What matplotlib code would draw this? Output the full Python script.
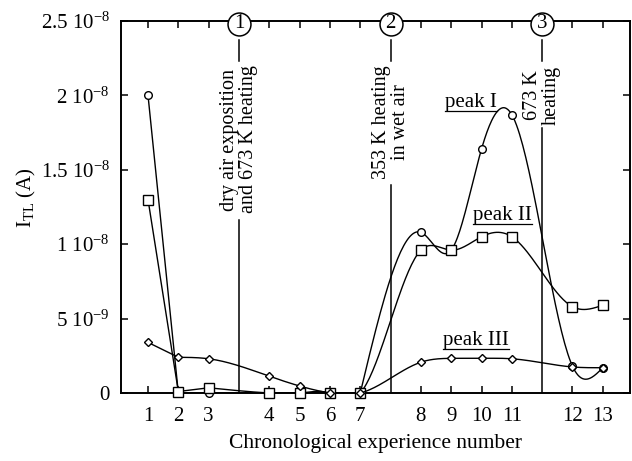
"""
TL peak intensities vs chronological experience number.
Smooth curves are natural cubic splines through the measured points.
"""
import numpy as np
import matplotlib.pyplot as plt

plt.rcParams['font.family'] = ['Liberation Serif', 'DejaVu Serif']
plt.rcParams['mathtext.default'] = 'regular'
plt.rcParams['font.size'] = 15

# experiment numbers and their place on the x axis (gaps where the events happen)
experience = [1, 2, 3, 4, 5, 6, 7, 8, 9, 10, 11, 12, 13]
x_pos = [1, 2, 3, 5, 6, 7, 8, 10, 11, 12, 13, 15, 16]

# TL current, in units of 1e-9 A
peak_1 = [20.0, 0.0, 0.0, 0.0, 0.0, 0.0, 0.0, 10.8, 9.6, 16.4, 18.7, 1.8, 1.7]
peak_2 = [13.0, 0.1, 0.35, 0.0, 0.0, 0.0, 0.0, 9.6, 9.6, 10.5, 10.5, 5.8, 5.9]
peak_3 = [3.4, 2.4, 2.3, 1.13, 0.47, 0.0, 0.0, 2.07, 2.33, 2.33, 2.3, 1.75, 1.7]

# index where the smoothed part of each curve starts (straight lines before)
smooth_1, smooth_2, smooth_3 = 6, 2, 1

event_pos = [4, 9, 14]
event_num = ['1', '2', '3']
event_text = ['dry air exposition\nand 673 K heating',
              '353 K heating\nin wet air',
              '673 K\nheating']
event_line_top = [11.6, 14.0, 17.8]

yticks = [0, 5, 10, 15, 20, 25]
ytick_labels = ['0', '5 10$^{-9}$', '1 10$^{-8}$', '1.5 10$^{-8}$',
                '2 10$^{-8}$', '2.5 10$^{-8}$']


def natural_spline(x, y, n=40):
    x = np.asarray(x, float)
    y = np.asarray(y, float)
    k = len(x)
    h = np.diff(x)
    A = np.zeros((k, k))
    r = np.zeros(k)
    A[0, 0] = A[-1, -1] = 1
    for i in range(1, k - 1):
        A[i, i - 1] = h[i - 1]
        A[i, i] = 2 * (h[i - 1] + h[i])
        A[i, i + 1] = h[i]
        r[i] = 6 * ((y[i + 1] - y[i]) / h[i] - (y[i] - y[i - 1]) / h[i - 1])
    m = np.linalg.solve(A, r)
    xs, ys = [], []
    for i in range(k - 1):
        t = np.linspace(x[i], x[i + 1], n)
        a, b = x[i + 1] - t, t - x[i]
        s = (m[i] * a**3 + m[i + 1] * b**3) / (6 * h[i]) \
            + (y[i] / h[i] - m[i] * h[i] / 6) * a \
            + (y[i + 1] / h[i] - m[i + 1] * h[i] / 6) * b
        xs.append(t)
        ys.append(s)
    return np.concatenate(xs), np.concatenate(ys)


def draw_series(ax, vals, start, marker, ms, z):
    ax.plot(x_pos[:start + 1], vals[:start + 1], c='k', lw=1.0, zorder=z)
    sx, sy = natural_spline(x_pos[start:], vals[start:])
    ax.plot(sx, sy, c='k', lw=1.0, zorder=z)
    ax.plot(x_pos, vals, ls='none', marker=marker, ms=ms, mfc='white',
            mec='k', mew=1.0, clip_on=False, zorder=z + 0.5)


fig = plt.figure(figsize=(6.32, 4.61), dpi=100)
ax = fig.add_axes([0.1915, 0.1475, 0.8055, 0.807])

draw_series(ax, peak_1, smooth_1, 'o', 5.5, 3)
draw_series(ax, peak_2, smooth_2, 's', 6.5, 4)
draw_series(ax, peak_3, smooth_3, 'D', 4.5, 5)

# events: vertical line, note, numbered circle on the top axis
for pos, num, txt, top in zip(event_pos, event_num, event_text, event_line_top):
    ax.plot([pos, pos], [0, top], c='k', lw=1.1, zorder=2)
    ax.plot([pos, pos], [23.7, 22.3], c='k', lw=1.1, zorder=2)
    ax.text(pos, 22.0, txt, rotation=90, ha='center', va='top',
            linespacing=1.0, fontsize=14.5)
    ax.plot(pos, 24.8, 'o', ms=16.5, mfc='white', mec='k', mew=1.1,
            clip_on=False, zorder=6)
    ax.text(pos, 24.8, num, ha='center', va='center', fontsize=15,
            zorder=7, clip_on=False)

peak_labels = [ax.text(11.66, 19.5, 'peak I', ha='center', va='center'),
               ax.text(12.68, 11.9, 'peak II', ha='center', va='center'),
               ax.text(11.83, 3.5, 'peak III', ha='center', va='center')]

ax.set_xlim(0.11, 16.9)
ax.set_ylim(0, 25)
ax.set_xticks(x_pos)
ax.set_xticklabels([str(e) for e in experience])
ax.set_yticks(yticks)
ax.set_yticklabels(ytick_labels)
ax.tick_params(direction='in', top=True, right=True, length=5, width=1.1,
               labelsize=15)
ax.tick_params(axis='x', pad=10)
ax.tick_params(axis='y', pad=8)
for s in ax.spines.values():
    s.set_linewidth(1.4)

ax.set_xlabel('Chronological experience number', fontsize=15.5, labelpad=6)
ax.set_ylabel('I$_{TL}$ (A)', fontsize=15, labelpad=2)
ax.yaxis.label.set_y(0.524)

# underline the peak names
fig.canvas.draw()
inv = ax.transData.inverted()
for t in peak_labels:
    bb = t.get_window_extent()
    (x0, y0), (x1, _) = inv.transform([(bb.x0, bb.y0 + 1), (bb.x1, bb.y0 + 1)])
    ax.plot([x0, x1], [y0, y0], c='k', lw=0.9)

fig.savefig('out.png', dpi=100)
